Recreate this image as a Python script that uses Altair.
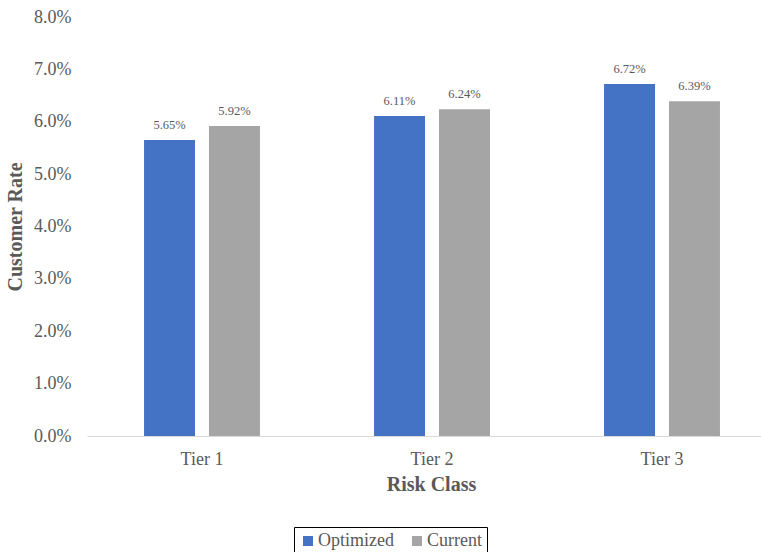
import altair as alt
import pandas as pd

categories = ["Tier 1", "Tier 2", "Tier 3"]
series = ["Optimized", "Current"]
optimized = [0.0565, 0.0611, 0.0672]
current = [0.0592, 0.0624, 0.0639]
colors = ["#4472C4", "#A5A5A5"]

rows = []
for i, c in enumerate(categories):
    rows.append({"Risk Class": c, "Series": "Optimized", "Rate": optimized[i]})
    rows.append({"Risk Class": c, "Series": "Current", "Rate": current[i]})
df = pd.DataFrame(rows)

FONT = "Liberation Serif"
GRAY = "#595959"

x = alt.X("Risk Class:N", sort=categories,
          scale=alt.Scale(range=[0, 690], paddingInner=0.496, paddingOuter=0.248),
          axis=alt.Axis(title="Risk Class", labelAngle=0, labelPadding=14, tickSize=0,
                        ticks=False, domainColor="#D9D9D9", domainWidth=1,
                        labelFont=FONT, labelFontSize=18, labelColor=GRAY,
                        titleFont=FONT, titleFontSize=20, titleFontWeight="bold",
                        titleColor=GRAY, titleX=344, titleY=54, titleBaseline="alphabetic",
                        titleAnchor="middle"))
xo = alt.XOffset("Series:N", sort=series, scale=alt.Scale(paddingInner=0.215, paddingOuter=0))
y = alt.Y("Rate:Q", scale=alt.Scale(domain=[0, 0.08], nice=False),
          axis=alt.Axis(title="Customer Rate", format=".1%",
                        values=[0, 0.01, 0.02, 0.03, 0.04, 0.05, 0.06, 0.07, 0.08],
                        grid=False, domain=False, ticks=False, labelPadding=16,
                        labelFont=FONT, labelFontSize=18, labelColor=GRAY,
                        titleFont=FONT, titleFontSize=20, titleFontWeight="bold",
                        titleColor=GRAY, titleX=-66, titleY=209.5, titleAngle=-90,
                        titleBaseline="alphabetic", titleAnchor="middle"))
color = alt.Color("Series:N", sort=series,
                  scale=alt.Scale(domain=series, range=colors),
                  legend=alt.Legend(title=None, orient="none", legendX=207, legendY=510,
                                    direction="horizontal", symbolType="square",
                                    symbolSize=100, symbolStrokeWidth=0, symbolOpacity=1,
                                    labelFont=FONT, labelFontSize=18, labelColor=GRAY,
                                    labelOffset=1, columnPadding=14, padding=5,
                                    strokeColor="black"))

bars = alt.Chart(df).mark_bar().encode(x=x, xOffset=xo, y=y, color=color)
labels = alt.Chart(df).mark_text(font=FONT, fontSize=12.5, color=GRAY, dy=-11,
                                 baseline="alphabetic").encode(
    x=x, xOffset=xo, y=y, text=alt.Text("Rate:Q", format=".2%"))

chart = alt.layer(bars, labels).properties(
    width=674, height=419,
    autosize=alt.AutoSizeParams(type="none"),
    padding={"left": 87, "top": 17, "right": 0, "bottom": 116},
).configure(background="white", font=FONT).configure_view(
    stroke="transparent", strokeWidth=0
).configure_legend(strokeWidth=1, labelFont=FONT, labelFontSize=18)

chart.save("out.html", embed_options={"renderer": "svg", "actions": False})
